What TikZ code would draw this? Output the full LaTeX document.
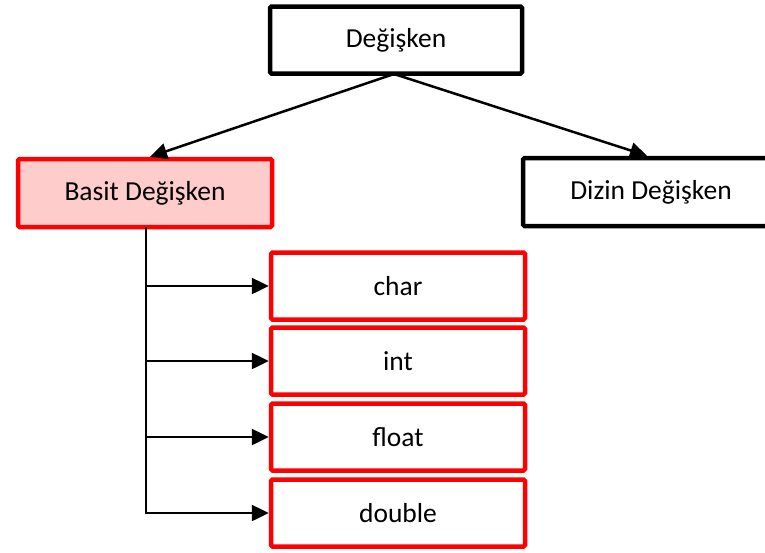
\documentclass[tikz,border=0pt]{standalone}
\usepackage{fontspec}
\setmainfont{Carlito}
\usetikzlibrary{arrows.meta}
\definecolor{boxred}{RGB}{255,0,0}
\definecolor{boxpink}{RGB}{255,204,204}
\begin{document}
\begin{tikzpicture}[x=1pt,y=-1pt,
  every node/.style={font=\fontsize{27.5}{33}\selectfont},
  blackbox/.style={draw=black,line width=4.5pt,rounded corners=1.5pt,fill=white,inner sep=0pt},
  redbox/.style={draw=boxred,line width=4.5pt,rounded corners=1.5pt,fill=white,inner sep=0pt},
  pinkbox/.style={draw=boxred,line width=4.5pt,rounded corners=1.5pt,fill=boxpink,inner sep=0pt},
  link/.style={line width=2.5pt,-{Triangle[length=17pt,width=16pt]}}]
\clip (0,0) rectangle (765,552);
\useasboundingbox (0,0) rectangle (765,552);
% top level
\node[blackbox,minimum width=252pt,minimum height=67pt] (var) at (396,40) {Değişken};
\node[pinkbox,minimum width=254pt,minimum height=68pt] (basic) at (145,193) {Basit Değişken};
\node[blackbox,minimum width=256pt,minimum height=68pt] (array) at (651,192) {Dizin Değişken};
% simple types
\node[redbox,minimum width=254pt,minimum height=67pt] (char) at (398,286) {char};
\node[redbox,minimum width=254pt,minimum height=67pt] (int) at (398,361) {int};
\node[redbox,minimum width=254pt,minimum height=67pt] (float) at (398,437) {float};
\node[redbox,minimum width=254pt,minimum height=67pt] (double) at (398,513) {double};
% connectors
\coordinate (split) at (394,74);
\draw[link] (split) -- ([xshift=5pt]basic.north);
\draw[link] (split) -- ([xshift=-4pt]array.north);
\coordinate (stem) at (146,227);
\draw[line width=2.5pt] (stem) -- (146,514);
\foreach \t in {char,int,float,double}
  \draw[link] (146,0 |- \t.west) -- (\t.west);
\end{tikzpicture}
\end{document}
